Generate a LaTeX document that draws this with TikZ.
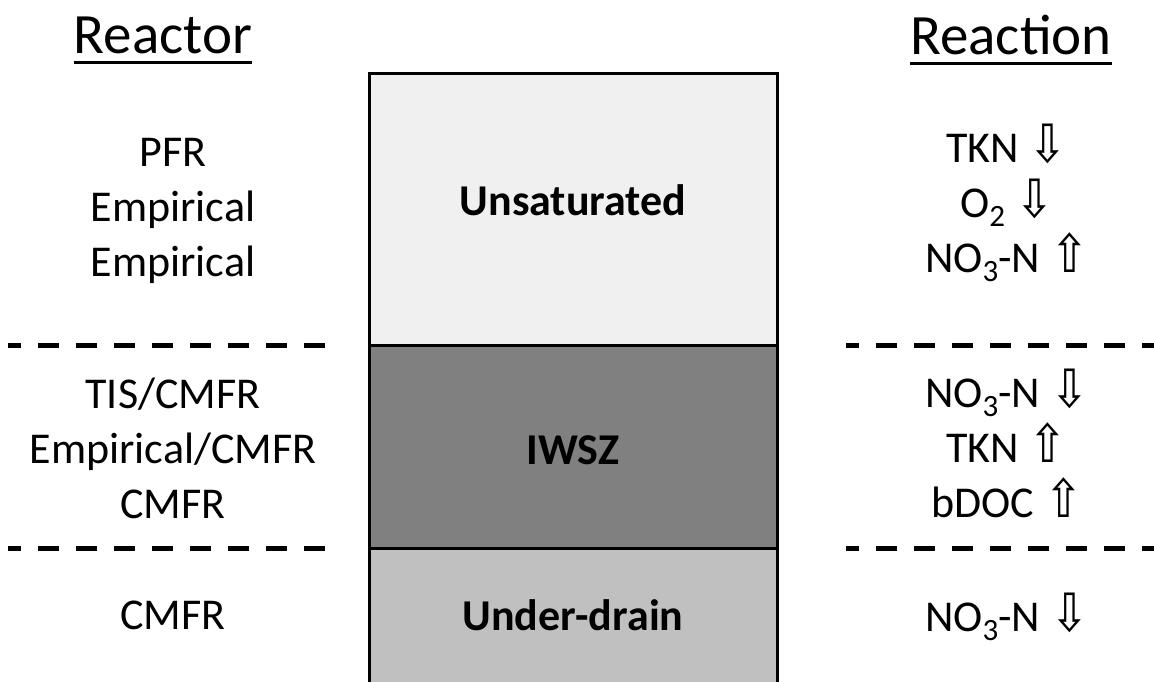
\documentclass[tikz,border=0pt]{standalone}
\usepackage{fontspec}
\setmainfont{Carlito}
\newfontfamily\arrowfont{DejaVu Sans}
\usetikzlibrary{calc}
\definecolor{unsat}{HTML}{F0F0F0}
\definecolor{iwsz}{HTML}{808080}
\definecolor{udrain}{HTML}{C0C0C0}
\newcommand{\dnarr}{{\arrowfont\scalebox{1.05}[1.2]{⇩}}}
\newcommand{\uparr}{{\arrowfont\scalebox{1.05}[1.2]{⇧}}}
\newcommand{\sbs}[1]{\smash{\raisebox{-9pt}{\fontsize{31}{32}\selectfont #1}}}
\begin{document}
\begin{tikzpicture}[x=1pt,y=-1pt,
  body/.style={font=\fontsize{44}{55}\selectfont, align=center, inner sep=0pt},
  head/.style={font=\fontsize{57}{60}\selectfont, inner sep=0pt},
  uline/.style={line width=3pt},
  zonelabel/.style={font=\fontsize{44}{55}\selectfont\bfseries, inner sep=0pt},
  sep/.style={line width=5pt, dash pattern=on 21pt off 17pt},
  border/.style={line width=3pt}]
\useasboundingbox (0,0) rectangle (1154,681);
% zones
\fill[unsat] (369,73) rectangle (777,345);
\fill[iwsz] (369,345) rectangle (777,548);
\fill[udrain] (369,548) rectangle (777,685);
\draw[border] (369,685) -- (369,73) -- (777,73) -- (777,685);
\draw[border] (369,345) -- (777,345);
\draw[border] (369,548) -- (777,548);
% zone labels
\node[zonelabel] (unsatL) at (573,200) {Unsaturated};
\node[zonelabel] (iwszL) at (573,450) {IWSZ};
\node[zonelabel] (udrainL) at (573,615) {Under-drain};
% headings
\node[head] (reactor) at (163,35) {Reactor};
\node[head] (reaction) at (1011,35) {Reaction};
\draw[uline] ([yshift=-9pt]reactor.base west) -- ([yshift=-9pt]reactor.base east);
\draw[uline] ([yshift=-9pt]reaction.base west) -- ([yshift=-9pt]reaction.base east);
% left column
\node[body] (l1) at (173,211) {PFR\\Empirical\\Empirical};
\node[body] (l2) at (173,448) {TIS/CMFR\\Empirical/CMFR\\CMFR};
\node[body] (l3) at (173,615) {CMFR};
% right column
\node[body] (r1) at (1007,198) {TKN \dnarr\\O\sbs{2} \dnarr\\NO\sbs{3}-N \uparr};
\node[body] (r2) at (1007,443) {NO\sbs{3}-N \dnarr\\TKN \uparr\\bDOC \uparr};
\node[body] (r3) at (1007,613) {NO\sbs{3}-N \dnarr};
% separators
\coordinate (sl1a) at (325,345); \coordinate (sl1b) at (8,345);
\coordinate (sl2a) at (325,548); \coordinate (sl2b) at (8,548);
\coordinate (sr1a) at (846,345); \coordinate (sr1b) at (1160,345);
\coordinate (sr2a) at (846,548); \coordinate (sr2b) at (1160,548);
\draw[sep] (sl1a) -- (sl1b);
\draw[sep] (sl2a) -- (sl2b);
\draw[sep, dash phase=8pt] (sr1a) -- (sr1b);
\draw[sep, dash phase=8pt] (sr2a) -- (sr2b);
\end{tikzpicture}
\end{document}
